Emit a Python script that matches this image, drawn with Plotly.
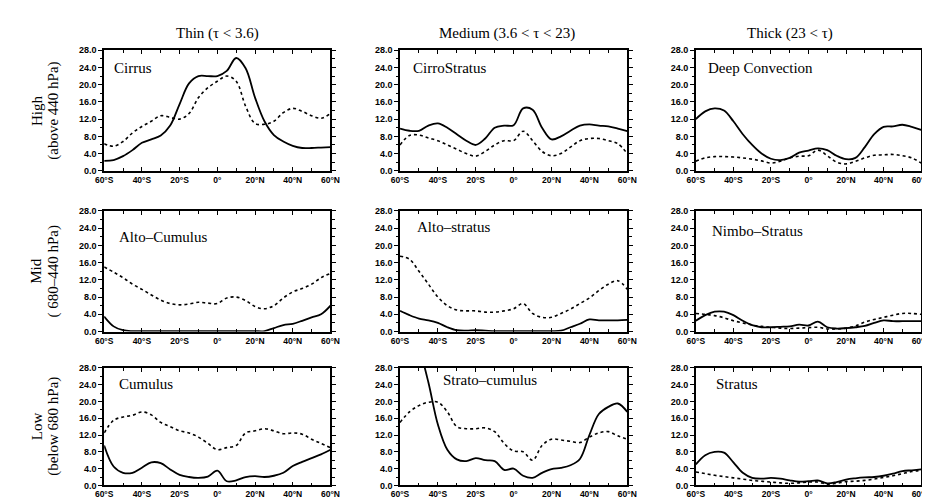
import plotly.graph_objects as go

LAT = [-60, -55, -50, -45, -40, -35, -30, -25, -20, -15, -10, -5, 0,
       5, 10, 15, 20, 25, 30, 35, 40, 45, 50, 55, 60]

COL_TITLES = ["Thin (\u03c4 < 3.6)", "Medium (3.6 < \u03c4 < 23)", "Thick (23 < \u03c4)"]
ROW_MAIN = ["High", "Mid", "Low"]
ROW_SUB = ["(above 440 hPa)", "( 680\u2013440 hPa)", "(below 680 hPa)"]
PANEL_NAMES = [["Cirrus", "CirroStratus", "Deep Convection"],
               ["Alto\u2013Cumulus", "Alto\u2013stratus", "Nimbo\u2013Stratus"],
               ["Cumulus", "Strato\u2013cumulus", "Stratus"]]

X_TICKVALS = [-60, -40, -20, 0, 20, 40, 60]
X_TICKTEXT = ["60\u00b0S", "40\u00b0S", "20\u00b0S", "0\u00b0", "20\u00b0N", "40\u00b0N", "60\u00b0N"]

# ---- High clouds ----
cirrus_solid = [2.3, 2.5, 3.4, 4.8, 6.5, 7.3, 8.2, 10.5, 15.5, 20.3, 22.0, 22.0, 22.0,
                23.2, 26.2, 23.8, 17.0, 11.5, 8.3, 6.8, 5.8, 5.3, 5.3, 5.4, 5.5]
cirrus_dot = [6.3, 5.7, 6.8, 8.8, 10.3, 11.5, 12.8, 12.4, 12.0, 13.3, 17.0, 19.3, 20.8,
              22.0, 20.8, 15.0, 11.0, 10.8, 11.5, 13.5, 14.5, 13.8, 12.8, 12.2, 13.3]
cirrostratus_solid = [9.8, 9.3, 9.3, 10.5, 11.0, 10.0, 8.5, 7.0, 6.0, 7.5, 10.0, 10.5, 10.6,
                      14.5, 14.2, 10.0, 7.3, 8.0, 9.3, 10.5, 10.8, 10.5, 10.3, 9.8, 9.2]
cirrostratus_dot = [6.0, 8.2, 8.3, 7.6, 7.0, 6.0, 5.0, 4.0, 3.4, 4.5, 6.0, 7.0, 7.0,
                    9.2, 7.0, 4.5, 3.5, 4.0, 5.5, 7.0, 7.5, 7.5, 7.0, 6.3, 4.0]
deepconv_solid = [12.0, 13.8, 14.5, 14.0, 11.5, 8.5, 6.0, 4.0, 2.8, 2.5, 3.0, 4.2, 4.7,
                  5.2, 4.8, 3.5, 2.7, 3.0, 5.5, 8.5, 10.2, 10.3, 10.7, 10.2, 9.5]
deepconv_dot = [2.2, 3.0, 3.3, 3.3, 3.2, 3.0, 2.7, 2.3, 1.8, 2.2, 3.0, 3.4, 3.5,
                4.8, 3.5, 2.0, 1.6, 2.2, 3.0, 3.6, 3.7, 3.8, 3.5, 3.0, 1.8]

# ---- Mid clouds ----
altocumulus_solid = [3.5, 1.2, 0.3, 0.1, 0.1, 0.1, 0.1, 0.1, 0.1, 0.1, 0.1, 0.1, 0.1,
                     0.1, 0.1, 0.1, 0.1, 0.1, 0.8, 1.5, 1.8, 2.5, 3.3, 4.0, 6.0]
altocumulus_dot = [15.0, 13.8, 12.5, 11.0, 9.8, 8.5, 7.3, 6.5, 6.2, 6.4, 6.8, 6.6, 6.5,
                   7.8, 8.0, 7.2, 5.8, 5.3, 6.0, 7.8, 9.2, 10.0, 11.0, 12.5, 13.5]
altostratus_solid = [4.8, 3.8, 3.0, 2.6, 2.0, 1.0, 0.3, 0.2, 0.3, 0.2, 0.1, 0.1, 0.1,
                     0.1, 0.1, 0.1, 0.1, 0.2, 1.0, 1.8, 2.8, 2.6, 2.6, 2.6, 2.7]
altostratus_dot = [17.5, 16.8, 14.0, 11.0, 8.0, 6.0, 5.0, 4.8, 4.8, 4.5, 4.5, 4.8, 5.3,
                   6.5, 4.2, 3.3, 3.3, 4.2, 5.2, 6.5, 7.8, 9.5, 11.0, 11.8, 9.8]
nimbostratus_solid = [2.5, 3.8, 4.6, 4.6, 3.8, 2.5, 1.5, 1.0, 1.0, 1.1, 1.2, 1.6, 1.4,
                      2.3, 1.0, 0.7, 0.8, 1.0, 1.3, 2.0, 2.6, 2.4, 2.4, 2.4, 2.4]
nimbostratus_dot = [4.2, 4.0, 3.7, 3.2, 2.5, 2.0, 1.5, 1.2, 1.0, 0.8, 0.7, 0.8, 0.9,
                    1.0, 0.6, 0.6, 0.8, 1.3, 2.2, 2.8, 3.3, 3.8, 4.2, 4.2, 4.0]

# ---- Low clouds ----
cumulus_solid = [9.5, 4.5, 3.0, 3.0, 4.2, 5.5, 5.3, 3.8, 2.5, 2.0, 1.8, 2.1, 3.5,
                 1.0, 1.2, 2.0, 2.2, 2.0, 2.3, 3.0, 4.6, 5.6, 6.5, 7.4, 8.5]
cumulus_dot = [12.5, 15.5, 16.3, 16.7, 17.5, 16.8, 15.0, 14.0, 13.0, 12.5, 11.5, 10.0, 8.5,
               9.0, 9.5, 12.5, 13.0, 13.5, 13.0, 12.3, 12.5, 12.2, 11.0, 10.0, 9.0]
stratocumulus_solid = [44.0, 39.0, 33.0, 24.5, 14.5, 8.5, 6.2, 5.8, 6.5, 6.0, 5.8, 3.7, 4.0,
                       2.3, 1.8, 3.0, 3.9, 4.2, 4.8, 6.3, 12.0, 17.0, 18.7, 19.5, 17.5]
stratocumulus_dot = [15.0, 17.5, 19.0, 19.8, 19.8, 17.5, 14.0, 13.5, 13.5, 13.7, 12.8, 10.0, 8.2,
                     8.0, 6.0, 9.5, 11.0, 10.8, 10.5, 10.2, 11.5, 12.5, 12.8, 11.8, 11.0]
stratus_solid = [5.0, 7.2, 8.0, 7.8, 5.5, 3.0, 1.8, 1.6, 1.8, 1.6, 1.2, 0.9, 1.0,
                 1.2, 0.5, 0.8, 1.4, 1.7, 1.9, 2.0, 2.3, 2.8, 3.4, 3.6, 3.8]
stratus_dot = [3.2, 2.8, 2.4, 2.1, 1.8, 1.5, 1.2, 1.0, 0.8, 0.6, 0.5, 0.6, 0.8,
               0.8, 0.3, 0.5, 0.9, 1.0, 1.2, 1.5, 1.9, 2.3, 2.8, 3.3, 3.6]

SOLID = [[cirrus_solid, cirrostratus_solid, deepconv_solid],
         [altocumulus_solid, altostratus_solid, nimbostratus_solid],
         [cumulus_solid, stratocumulus_solid, stratus_solid]]
DOTTED = [[cirrus_dot, cirrostratus_dot, deepconv_dot],
          [altocumulus_dot, altostratus_dot, nimbostratus_dot],
          [cumulus_dot, stratocumulus_dot, stratus_dot]]

W, H = 930, 503
COL_PX = [(89, 320), (391, 623), (693, 923)]
ROW_PX = [(38, 161), (202, 325), (362, 482)]
LABEL_DX = [[8, 11, 10], [13, 15, 14], [13, 42, 19]]
LABEL_DY = [[18, 18, 18], [27, 16, 20], [17, 12, 17]]
TITLE_X = [205, 500, 789]

SERIF = "Liberation Serif, Times New Roman, serif"
SANS = "Liberation Sans, Arial, sans-serif"

fig = go.Figure()
layout = dict(width=W, height=H, margin=dict(l=0, r=0, t=0, b=0),
              paper_bgcolor="white", plot_bgcolor="white", showlegend=False)
annotations = []

for r in range(3):
    for c in range(3):
        k = r * 3 + c + 1
        xs = "" if k == 1 else str(k)
        xname, yname = "x" + xs, "y" + xs
        fig.add_trace(go.Scatter(x=LAT, y=DOTTED[r][c], mode="lines", xaxis=xname, yaxis=yname,
                                 line=dict(color="black", width=1.6, dash="dot", shape="spline",
                                           smoothing=1.0)))
        fig.add_trace(go.Scatter(x=LAT, y=SOLID[r][c], mode="lines", xaxis=xname, yaxis=yname,
                                 line=dict(color="black", width=1.8, shape="spline",
                                           smoothing=1.0)))
        x0, x1 = COL_PX[c]
        t0, t1 = ROW_PX[r]
        layout["xaxis" + xs] = dict(
            domain=[x0 / W, x1 / W], anchor=yname, range=[-60, 60],
            tickvals=X_TICKVALS, ticktext=X_TICKTEXT, ticks="inside", ticklen=4,
            tickwidth=1.2, tickcolor="black", ticklabelstandoff=0,
            minor=dict(dtick=10, tick0=0, ticks="inside", ticklen=3, tickcolor="black"),
            showline=True, linecolor="black", linewidth=1.6, mirror="ticks",
            showgrid=False, zeroline=False,
            tickfont=dict(family=SANS, size=8.5, color="black", weight="bold"))
        layout["yaxis" + xs] = dict(
            domain=[(H - t1) / H, (H - t0) / H], anchor=xname, range=[0, 28],
            tick0=0, dtick=4, tickformat=".1f", ticks="outside", ticklen=4,
            tickwidth=1.2, tickcolor="black",
            minor=dict(dtick=2, tick0=0, ticks="outside", ticklen=2.5, tickcolor="black"),
            showline=True, linecolor="black", linewidth=1.6, mirror="ticks",
            showgrid=False, zeroline=False,
            tickfont=dict(family=SANS, size=9, color="black", weight="bold"))
        annotations.append(dict(
            text=PANEL_NAMES[r][c], xref=xname + " domain", yref=yname + " domain",
            x=LABEL_DX[r][c] / (x1 - x0), y=1 - LABEL_DY[r][c] / (t1 - t0),
            xanchor="left", yanchor="middle", showarrow=False,
            font=dict(family=SERIF, size=15, color="black")))

for c in range(3):
    annotations.append(dict(text=COL_TITLES[c], xref="paper", yref="paper",
                            x=TITLE_X[c] / W, y=(H - 21) / H, xanchor="center", yanchor="middle",
                            showarrow=False, font=dict(family=SERIF, size=15, color="black")))

for r in range(3):
    t0, t1 = ROW_PX[r]
    yc = (H - (t0 + t1) / 2) / H
    annotations.append(dict(text=ROW_MAIN[r], xref="paper", yref="paper", x=20 / W, y=yc,
                            xanchor="center", yanchor="middle", textangle=-90, showarrow=False,
                            font=dict(family=SERIF, size=15, color="black")))
    annotations.append(dict(text=ROW_SUB[r], xref="paper", yref="paper", x=37 / W, y=yc,
                            xanchor="center", yanchor="middle", textangle=-90, showarrow=False,
                            font=dict(family=SERIF, size=15, color="black")))

layout["annotations"] = annotations
fig.update_layout(**layout)
fig.write_html("out.html")
